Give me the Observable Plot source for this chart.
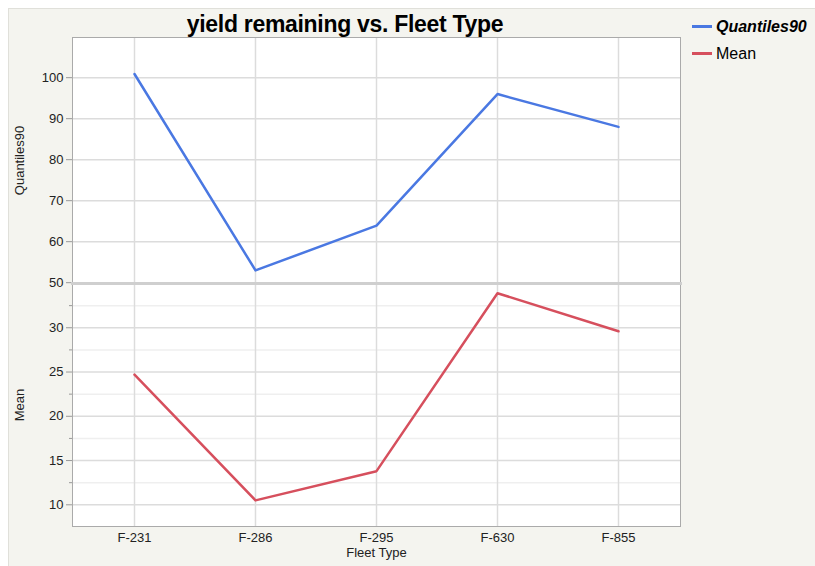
<!DOCTYPE html>
<html><head><meta charset="utf-8">
<script src="https://cdn.jsdelivr.net/npm/d3@7"></script>
<script src="https://cdn.jsdelivr.net/npm/@observablehq/plot@0.6"></script>
<style>
body{margin:0;background:#fff;font-family:"Liberation Sans",Arial,sans-serif;}
#wrap{position:relative;width:815px;height:566px;overflow:hidden;}
#bg{position:absolute;left:8px;top:8px;right:0;bottom:0;background:#f4f4ef;border-top:1px solid #e0e0da;border-left:1px solid #e0e0da;}
#title{position:absolute;left:0;width:690px;top:11px;text-align:center;font-weight:bold;font-size:23px;color:#000;letter-spacing:-0.3px;}
.plot{position:absolute;left:0;}
#legend{position:absolute;left:692px;top:13px;font-size:16px;color:#000;}
.item{display:flex;align-items:center;height:27px;}
.sw{width:20px;height:0;border-top:3px solid;margin-right:4px;}
</style></head>
<body>
<div id="wrap">
  <div id="bg"></div>
  <div id="title">yield remaining vs. Fleet Type</div>
  <div id="legend"></div>
</div>
<script>
const categories = ["F-231", "F-286", "F-295", "F-630", "F-855"];
const quantiles90 = [100.9, 53.0, 63.9, 96.0, 88.0];
const means = [24.7, 10.5, 13.8, 33.9, 29.6];
const qTicks = [50, 60, 70, 80, 90, 100];
const meanTicks = [10, 15, 20, 25, 30];
const meanMinorTicks = [12.5, 17.5, 22.5, 27.5, 32.5];
const seriesNames = ["Quantiles90", "Mean"];
const seriesColors = ["#4a78e2", "#d64f5d"];

const font = "Liberation Sans, Arial, sans-serif";
const wrap = document.getElementById("wrap");

const topPlot = Plot.plot({
  width: 815, height: 256,
  marginTop: 10, marginBottom: 0, marginLeft: 72, marginRight: 135,
  style: {background: "transparent", fontFamily: font, fontSize: "13px", overflow: "visible"},
  x: {type: "point", domain: categories, padding: 0.5, axis: null},
  y: {domain: [49.8, 109.8], axis: null},
  marks: [
    Plot.frame({fill: "white", stroke: null}),
    Plot.ruleY(qTicks, {stroke: "#dcdcdc", strokeWidth: 1.5}),
    Plot.ruleX(categories, {stroke: "#dcdcdc", strokeWidth: 1.5}),
    Plot.axisY(qTicks, {tickSize: 6, stroke: "#999", fill: "#222", tickPadding: 3,
      label: "Quantiles90", labelAnchor: "center", labelArrow: "none", labelOffset: 58}),
    Plot.lineY(quantiles90, {x: categories, stroke: seriesColors[0], strokeWidth: 2.5}),
    Plot.frame({stroke: "#aaa"})
  ]
});
topPlot.classList.add("plot");
topPlot.style.top = "27px";
wrap.appendChild(topPlot);

const botPlot = Plot.plot({
  width: 815, height: 283,
  marginTop: 0, marginBottom: 40, marginLeft: 72, marginRight: 135,
  style: {background: "transparent", fontFamily: font, fontSize: "13px", overflow: "visible"},
  x: {type: "point", domain: categories, padding: 0.5},
  y: {domain: [7.55, 35.0]},
  marks: [
    Plot.frame({fill: "white", stroke: null}),
    Plot.ruleY(meanMinorTicks, {stroke: "#efefef", strokeWidth: 1.5}),
    Plot.ruleY(meanTicks, {stroke: "#dcdcdc", strokeWidth: 1.5}),
    Plot.ruleX(categories, {stroke: "#dcdcdc", strokeWidth: 1.5}),
    Plot.axisY(meanMinorTicks, {tickSize: 3, stroke: "#999", tickFormat: () => "", label: null}),
    Plot.axisY(meanTicks, {tickSize: 6, stroke: "#999", fill: "#222", tickPadding: 3,
      label: "Mean", labelAnchor: "center", labelArrow: "none", labelOffset: 58}),
    Plot.axisX(categories, {tickSize: 0, tickPadding: 6, fill: "#222",
      label: "Fleet Type", labelAnchor: "center", labelArrow: "none", labelOffset: 30}),
    Plot.lineY(means, {x: categories, stroke: seriesColors[1], strokeWidth: 2.5}),
    Plot.frame({stroke: "#aaa"}),
    Plot.frame({anchor: "top", stroke: "#cfcfcf", strokeWidth: 3})
  ]
});
botPlot.classList.add("plot");
botPlot.style.top = "283px";
wrap.appendChild(botPlot);

const legend = document.getElementById("legend");
seriesNames.forEach((name, i) => {
  const row = document.createElement("div");
  row.className = "item";
  const sw = document.createElement("span");
  sw.className = "sw";
  sw.style.borderColor = seriesColors[i];
  const t = document.createElement("span");
  t.textContent = name;
  if (i === 0) { t.style.fontWeight = "bold"; t.style.fontStyle = "italic"; }
  row.appendChild(sw); row.appendChild(t);
  legend.appendChild(row);
});
</script>
</body></html>
